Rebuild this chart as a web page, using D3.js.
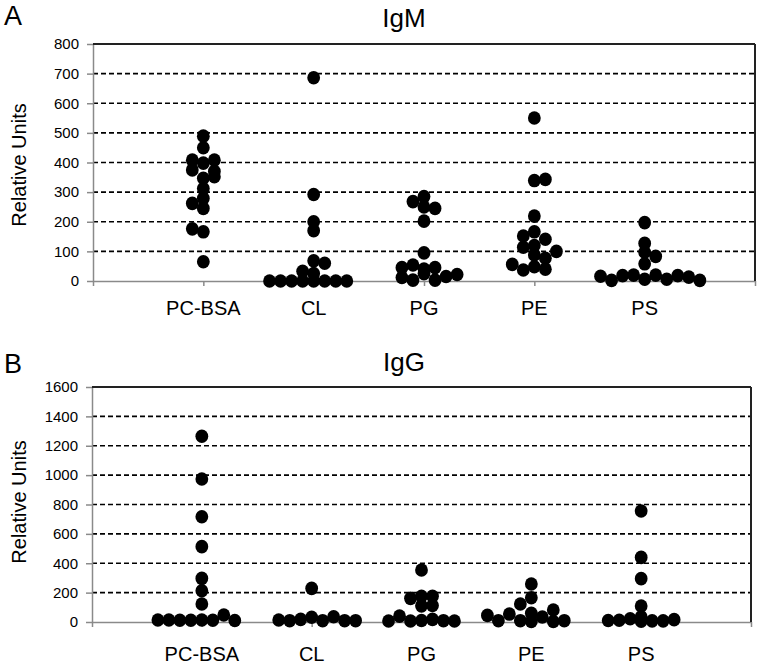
<!DOCTYPE html>
<html>
<head>
<meta charset="utf-8">
<script src="https://cdn.jsdelivr.net/npm/d3@7"></script>
<style>
  html, body { margin: 0; padding: 0; background: #fff; }
  svg { display: block; font-family: "Liberation Sans", Arial, sans-serif; }
</style>
</head>
<body>
<svg id="chart" width="762" height="667"></svg>
<script>
// ---------- data (value, horizontal lane within the column) ----------
const categories = ["PC-BSA", "CL", "PG", "PE", "PS"];

const igmTicks = [0, 100, 200, 300, 400, 500, 600, 700, 800];
const iggTicks = [0, 200, 400, 600, 800, 1000, 1200, 1400, 1600];

const igmPCBSA = [[489,0],[450,0],[408,-1],[398,0],[408,1],[375,-1],[370,1],[352,1],[347,0],[312,0],[279,0],[262,-1],[245,0],[176,-1],[166,0],[65,0]];
const igmCL    = [[686,0],[292,0],[200,0],[170,0],[68,0],[60,1],[33,-1],[25,0],[0,-4],[0,-3],[0,-2],[0,-1],[0,0],[0,1],[0,2],[0,3]];
const igmPG    = [[285,0],[268,-1],[250,0],[245,1],[202,0],[95,0],[45,-2],[54,-1],[40,0],[45,1],[12,-2],[3,-1],[25,0],[3,1],[15,2],[22,3]];
const igmPE    = [[550,0],[339,0],[343,1],[219,0],[152,-1],[166,0],[141,1],[114,-1],[120,0],[100,2],[88,0],[77,1],[56,-2],[37,-1],[48,0],[40,1]];
const igmPS    = [[197,0],[127,0],[97,0],[83,1],[58,0],[16,-4],[2,-3],[18,-2],[20,-1],[6,0],[20,1],[6,2],[18,3],[13,4],[2,5]];

const iggPCBSA = [[1265,0],[974,0],[717,0],[513,0],[297,0],[213,0],[123,0],[14,-4],[14,-3],[12,-2],[12,-1],[14,0],[12,1],[48,2],[10,3]];
const iggCL    = [[229,0],[14,-3],[9,-2],[18,-1],[32,0],[9,1],[36,2],[9,3],[9,4]];
const iggPG    = [[354,0],[161,-1],[175,0],[175,1],[110,0],[112,1],[7,-3],[40,-2],[7,-1],[10,0],[18,1],[9,2],[7,3]];
const iggPE    = [[259,0],[165,0],[123,-1],[54,-2],[45,-4],[9,-3],[9,-1],[59,0],[3,0],[34,1],[82,2],[3,2],[9,3]];
const iggPS    = [[756,0],[440,0],[295,0],[109,0],[10,-3],[12,-2],[22,-1],[35,0],[5,0],[8,1],[8,2],[16,3]];

// ---------- drawing ----------
const svg = d3.select("#chart");
const GREY = "#8a8a8a";

function panel(cfg) {
  const g = svg.append("g");
  const x = d3.scaleLinear().domain([0, categories.length + 1]).range([cfg.left, cfg.right]);
  const y = d3.scaleLinear().domain([0, cfg.ticks[cfg.ticks.length - 1]]).range([cfg.bottom, cfg.top]);
  const laneUnit = 0.1; // lane width in category units

  // dashed gridlines
  g.append("g").selectAll("line")
    .data(cfg.ticks.slice(1, -1))
    .join("line")
    .attr("x1", x(0)).attr("x2", x(categories.length + 1))
    .attr("y1", d => y(d)).attr("y2", d => y(d))
    .attr("stroke", "#000").attr("stroke-width", 1.6)
    .attr("stroke-dasharray", "5,3");

  // y axis
  const ya = g.append("g")
    .attr("transform", `translate(${x(0)},0)`)
    .call(d3.axisLeft(y).tickValues(cfg.ticks).tickFormat(d3.format("d"))
      .tickSize(6).tickSizeOuter(0).tickPadding(8));
  ya.select(".domain").attr("stroke", GREY).attr("stroke-width", 1.5);
  ya.selectAll(".tick line").attr("stroke", GREY).attr("stroke-width", 1.5);
  ya.selectAll(".tick text").attr("fill", "#000")
    .style("font-family", '"Liberation Sans", Arial, sans-serif').style("font-size", "15px");

  // x axis
  const xa = g.append("g")
    .attr("transform", `translate(0,${y(0)})`)
    .call(d3.axisBottom(x).tickValues(d3.range(0, categories.length + 2)).tickSize(5).tickSizeOuter(0).tickFormat(""));
  xa.select(".domain").attr("stroke", GREY).attr("stroke-width", 1.5);
  xa.selectAll(".tick line").attr("stroke", GREY).attr("stroke-width", 1.5);

  // top & right border
  g.append("line")
    .attr("x1", x(0)).attr("x2", x(categories.length + 1))
    .attr("y1", y.range()[1]).attr("y2", y.range()[1])
    .attr("stroke", "#222").attr("stroke-width", 2);
  g.append("line")
    .attr("x1", x(categories.length + 1)).attr("x2", x(categories.length + 1))
    .attr("y1", y.range()[1]).attr("y2", y(0))
    .attr("stroke", "#222").attr("stroke-width", 2);

  // category labels
  g.append("g").selectAll("text")
    .data(categories)
    .join("text")
    .attr("x", (d, i) => x(i + 1))
    .attr("y", cfg.catBaseline)
    .attr("text-anchor", "middle")
    .style("font-size", "20px")
    .text(d => d);

  // dots
  cfg.series.forEach((pts, i) => {
    g.append("g").selectAll("ellipse")
      .data(pts)
      .join("ellipse")
      .attr("cx", d => x(i + 1 + d[1] * laneUnit))
      .attr("cy", d => y(d[0]))
      .attr("rx", 6.4).attr("ry", 6.8)
      .attr("fill", "#000");
  });

  // y label
  svg.append("text")
    .attr("transform", `translate(26,${cfg.labelY}) rotate(-90)`)
    .attr("text-anchor", "middle")
    .style("font-size", "20px")
    .text("Relative Units");

  // title & panel letter
  svg.append("text")
    .attr("x", 404).attr("y", cfg.titleBaseline)
    .attr("text-anchor", "middle")
    .style("font-size", "26px")
    .text(cfg.title);
  svg.append("text")
    .attr("x", 4).attr("y", cfg.letterBaseline)
    .style("font-size", "27px")
    .text(cfg.letter);
}

panel({
  left: 93, right: 755, top: 44, bottom: 281,
  ticks: igmTicks,
  series: [igmPCBSA, igmCL, igmPG, igmPE, igmPS],
  catBaseline: 315, labelY: 165, title: "IgM", titleBaseline: 27,
  letter: "A", letterBaseline: 25
});

panel({
  left: 92, right: 751, top: 387, bottom: 622,
  ticks: iggTicks,
  series: [iggPCBSA, iggCL, iggPG, iggPE, iggPS],
  catBaseline: 661, labelY: 502, title: "IgG", titleBaseline: 371,
  letter: "B", letterBaseline: 373
});
</script>
</body>
</html>
